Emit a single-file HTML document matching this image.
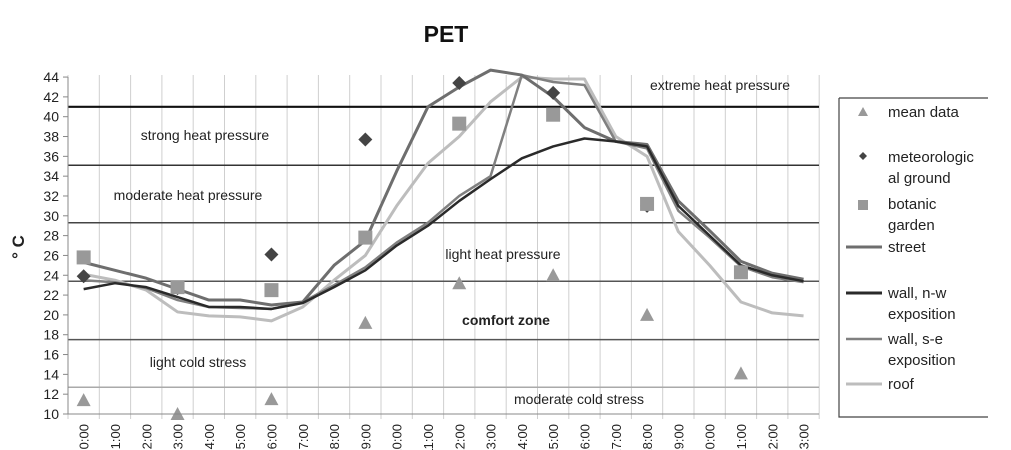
<!DOCTYPE html>
<html><head><meta charset="utf-8"><style>
body{margin:0;background:#fff;}
svg{display:block;font-family:"Liberation Sans",sans-serif;}
</style></head><body>
<svg id="chart" width="1011" height="450" viewBox="0 0 1011 450">
<text x="446" y="42" font-size="23" font-weight="bold" text-anchor="middle" fill="#111">PET</text>
<g id="grid"></g><g id="zones"></g><g id="series"></g><g id="axes"></g>
<text transform="translate(24,247) rotate(-90)" font-size="17" font-weight="bold" text-anchor="middle" fill="#222">° C</text>
<g>
<path d="M839,98 H988 M839,98 V417 H988" stroke="#444" fill="none" stroke-width="1.2"/>
<path d="M858,116 l5,-9 l5,9 z" fill="#999"/>
<text x="888" y="117" font-size="15" fill="#222">mean data</text>
<path d="M863,152 l4,4 l-4,4 l-4,-4 z" fill="#444"/>
<text x="888" y="162" font-size="15" fill="#222">meteorologic</text>
<text x="888" y="183" font-size="15" fill="#222">al ground</text>
<rect x="858" y="200" width="10" height="10" fill="#999"/>
<text x="888" y="209" font-size="15" fill="#222">botanic</text>
<text x="888" y="230" font-size="15" fill="#222">garden</text>
<line x1="846" x2="882" y1="247" y2="247" stroke="#6e6e6e" stroke-width="3"/>
<text x="888" y="252" font-size="15" fill="#222">street</text>
<line x1="846" x2="882" y1="293" y2="293" stroke="#2a2a2a" stroke-width="3"/>
<text x="888" y="298" font-size="15" fill="#222">wall, n-w</text>
<text x="888" y="319" font-size="15" fill="#222">exposition</text>
<line x1="846" x2="882" y1="339" y2="339" stroke="#808080" stroke-width="2.5"/>
<text x="888" y="344" font-size="15" fill="#222">wall, s-e</text>
<text x="888" y="365" font-size="15" fill="#222">exposition</text>
<line x1="846" x2="882" y1="384" y2="384" stroke="#bdbdbd" stroke-width="3"/>
<text x="888" y="389" font-size="15" fill="#222">roof</text>
</g>
</svg>
<script>
const hours = ["0:00","1:00","2:00","3:00","4:00","5:00","6:00","7:00","8:00","9:00","10:00","11:00","12:00","13:00","14:00","15:00","16:00","17:00","18:00","19:00","20:00","21:00","22:00","23:00"];
const yTicks = [10,12,14,16,18,20,22,24,26,28,30,32,34,36,38,40,42,44];
const street = [25.3,24.5,23.7,22.6,21.5,21.5,21.0,21.3,25.0,27.5,34.5,41.0,43.0,44.7,44.2,42.0,38.9,37.5,37.2,31.5,28.5,25.4,24.2,23.6];
const wallNW = [22.6,23.2,22.8,21.8,20.8,20.8,20.6,21.2,22.8,24.5,27.0,29.0,31.5,33.7,35.8,37.0,37.8,37.5,37.0,31.0,28.0,25.0,24.0,23.4];
const wallSE = [23.5,23.3,22.7,21.5,20.8,20.7,20.6,21.3,23.0,24.8,27.3,29.3,32.0,34.0,44.2,43.5,43.2,37.5,36.8,30.5,27.8,24.9,23.8,23.3];
const roof = [24.1,23.5,22.5,20.3,19.9,19.8,19.4,20.8,23.5,26.0,31.0,35.3,38.0,41.5,44.0,43.8,43.8,38.0,36.0,28.4,25.0,21.3,20.2,19.9];
const markerHours = [0,3,6,9,12,15,18,21];
const meanData = [11.4,10.0,11.5,19.2,23.2,24.0,20.0,14.1];
const meteo = [23.9,22.7,26.1,37.7,43.4,42.4,31.0,24.3];
const botanic = [25.8,22.8,22.5,27.8,39.3,40.2,31.2,24.3];
const zoneValues = [41,35.1,29.3,23.4,17.5,12.7];
const zoneLabels = [["extreme heat pressure",720,90,false],["strong heat pressure",205,140,false],["moderate heat pressure",188,200,false],["light heat pressure",503,259,false],["comfort zone",506,325,true],["light cold stress",198,367,false],["moderate cold stress",579,404,false]];

const NS="http://www.w3.org/2000/svg";
const X0=68,BW=31.3,Y0=414,PU=9.91;
const xs=i=>X0+BW*(i+0.5);
const ys=v=>Y0-(v-10)*PU;
function mk(tag,attrs,parent){const e=document.createElementNS(NS,tag);for(const k in attrs)e.setAttribute(k,attrs[k]);document.getElementById(parent).appendChild(e);return e;}
// grid
for(let i=0;i<=hours.length;i++){
  const g=mk('line',{x1:X0+BW*i,x2:X0+BW*i,y1:ys(44)-2,y2:Y0+5,stroke:'#cfcfcf','stroke-width':1},'grid');
  
  
}
// zones
const zcol=['#111','#333','#444','#555','#555','#aaa'];
zoneValues.forEach((v,i)=>{
  const l=mk('line',{x1:X0,x2:819,y1:ys(v),y2:ys(v),stroke:zcol[i],'stroke-width':i==0?2.2:1.5},'zones');
  
  
});
zoneLabels.forEach(z=>{
  const t=mk('text',{x:z[1],y:z[2],'font-size':14,fill:'#222','font-weight':z[3]?'bold':'normal','text-anchor':'middle'},'zones');
  t.textContent=z[0];
  
  
});
// axes
const ax=mk('path',{d:`M${X0},${ys(44)} V${Y0} H819`,stroke:'#888',fill:'none','stroke-width':1},'axes');


yTicks.forEach(v=>{
  mk('line',{x1:X0-5,x2:X0,y1:ys(v),y2:ys(v),stroke:'#888'},'axes');
  const t=mk('text',{x:X0-9,y:ys(v)+5,'font-size':14,'text-anchor':'end',fill:'#222'},'axes');
  t.textContent=v;
  
  
});
hours.forEach((h,i)=>{
  const t=mk('text',{transform:`translate(${xs(i)+5},424) rotate(-90)`,'font-size':13,'text-anchor':'end',fill:'#222'},'axes');
  t.textContent=h;
  
  
});
// lines
[[roof,'#bdbdbd',3,'roof-line'],[wallSE,'#808080',2.5,'wall-se-line'],[street,'#6e6e6e',3,'street-line'],[wallNW,'#2a2a2a',2.5,'wall-nw-line']].forEach(s=>{
  const p=mk('polyline',{points:s[0].map((v,i)=>xs(i)+','+ys(v)).join(' '),fill:'none',stroke:s[1],'stroke-width':s[2],'stroke-linejoin':'round'},'series');
  
  
});
markerHours.forEach((h,i)=>{
  const x=xs(h);
  let y=ys(meteo[i]);
  const d=mk('path',{d:`M${x},${y-7} L${x+7},${y} L${x},${y+7} L${x-7},${y} Z`,fill:'#444'},'series');
  
  
  y=ys(botanic[i]);
  const r=mk('rect',{x:x-7,y:y-7,width:14,height:14,fill:'#999'},'series');
  
  
  y=ys(meanData[i]);
  const tr=mk('path',{d:`M${x-7},${y+6} L${x},${y-7} L${x+7},${y+6} Z`,fill:'#999'},'series');
  
  
});
</script>
</body></html>
